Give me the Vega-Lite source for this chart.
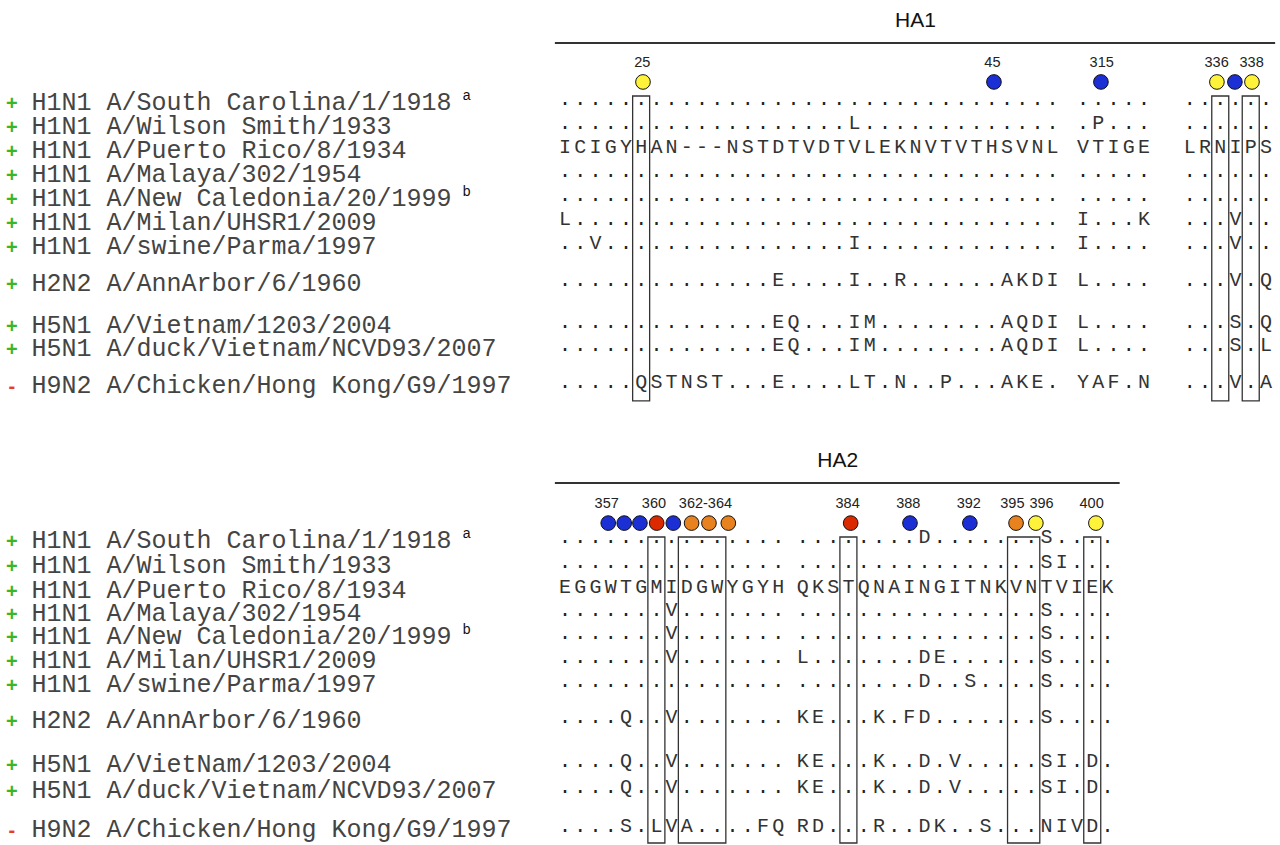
{
"$schema":"https://vega.github.io/schema/vega-lite/v6.json",
"width":1280,"height":845,
"autosize":{"type":"fit","contains":"padding"},
"padding":0,
"background":"white",
"config":{"view":{"stroke":null}},
"datasets":{
"panels":[{"title":"HA1","c":-0.66,"c2":46.6,"r":-2.58,"tc":23.0},{"title":"HA2","c":-0.66,"c2":36.4,"r":15.75,"tc":17.9}],
"boxes":[{"c":5,"c2":5,"r":-0.375,"r2":12.33},{"c":43,"c2":43,"r":-0.375,"r2":12.33},{"c":45,"c2":45,"r":-0.375,"r2":12.33},{"c":6,"c2":6,"r":18.0,"r2":30.75},{"c":8,"c2":10,"r":18.0,"r2":30.75},{"c":18.6,"c2":18.6,"r":18.0,"r2":30.75},{"c":29.6,"c2":30.6,"r":18.0,"r2":30.75},{"c":34.6,"c2":34.6,"r":18.0,"r2":30.75}],
"sites":[
{"r":-0.96,"c":5.12,"k":"yellow","lab":"25","lc":5.08},{"r":-0.96,"c":28.15,"k":"blue","lab":"45","lc":28.05},{"r":-0.96,"c":35.17,"k":"blue","lab":"315","lc":35.22},{"r":-0.96,"c":42.78,"k":"yellow","lab":"336","lc":42.76},{"r":-0.96,"c":43.96,"k":"blue","lab":"","lc":43.96},{"r":-0.96,"c":45.08,"k":"yellow","lab":"338","lc":45.06},
{"r":17.42,"c":2.84,"k":"blue","lab":"357","lc":2.74},{"r":17.42,"c":3.89,"k":"blue","lab":"","lc":3.89},{"r":17.42,"c":4.92,"k":"blue","lab":"","lc":4.92},{"r":17.42,"c":6.02,"k":"red","lab":"360","lc":5.84},{"r":17.42,"c":7.11,"k":"blue","lab":"","lc":7.11},{"r":17.42,"c":8.31,"k":"orange","lab":"","lc":8.31},{"r":17.42,"c":9.45,"k":"orange","lab":"362-364","lc":9.22},{"r":17.42,"c":10.72,"k":"orange","lab":"","lc":10.72},{"r":17.42,"c":18.75,"k":"red","lab":"384","lc":18.55},{"r":17.42,"c":22.64,"k":"blue","lab":"388","lc":22.53},{"r":17.42,"c":26.57,"k":"blue","lab":"392","lc":26.5},{"r":17.42,"c":29.6,"k":"orange","lab":"395","lc":29.36},{"r":17.42,"c":30.9,"k":"yellow","lab":"396","lc":31.27},{"r":17.42,"c":34.84,"k":"yellow","lab":"400","lc":34.56}],
"labels":[
{"r":0,"name":"H1N1 A/South Carolina/1/1918","s":"+","sup":"a"},
{"r":1,"name":"H1N1 A/Wilson Smith/1933","s":"+","sup":""},
{"r":2,"name":"H1N1 A/Puerto Rico/8/1934","s":"+","sup":""},
{"r":3,"name":"H1N1 A/Malaya/302/1954","s":"+","sup":""},
{"r":4,"name":"H1N1 A/New Caledonia/20/1999","s":"+","sup":"b"},
{"r":5,"name":"H1N1 A/Milan/UHSR1/2009","s":"+","sup":""},
{"r":6,"name":"H1N1 A/swine/Parma/1997","s":"+","sup":""},
{"r":7.55,"name":"H2N2 A/AnnArbor/6/1960","s":"+","sup":""},
{"r":9.3,"name":"H5N1 A/Vietnam/1203/2004","s":"+","sup":""},
{"r":10.25,"name":"H5N1 A/duck/Vietnam/NCVD93/2007","s":"+","sup":""},
{"r":11.8,"name":"H9N2 A/Chicken/Hong Kong/G9/1997","s":"-","sup":""},
{"r":18.27,"name":"H1N1 A/South Carolina/1/1918","s":"+","sup":"a"},
{"r":19.31,"name":"H1N1 A/Wilson Smith/1933","s":"+","sup":""},
{"r":20.33,"name":"H1N1 A/Puerto Rico/8/1934","s":"+","sup":""},
{"r":21.31,"name":"H1N1 A/Malaya/302/1954","s":"+","sup":""},
{"r":22.23,"name":"H1N1 A/New Caledonia/20/1999","s":"+","sup":"b"},
{"r":23.27,"name":"H1N1 A/Milan/UHSR1/2009","s":"+","sup":""},
{"r":24.23,"name":"H1N1 A/swine/Parma/1997","s":"+","sup":""},
{"r":25.77,"name":"H2N2 A/AnnArbor/6/1960","s":"+","sup":""},
{"r":27.6,"name":"H5N1 A/VietNam/1203/2004","s":"+","sup":""},
{"r":28.65,"name":"H5N1 A/duck/Vietnam/NCVD93/2007","s":"+","sup":""},
{"r":30.3,"name":"H9N2 A/Chicken/Hong Kong/G9/1997","s":"-","sup":""}],
"res":[
{"r":1,"c":19,"t":"L"},{"r":1,"c":35,"t":"P"},
{"r":2,"c":0,"t":"I"},{"r":2,"c":1,"t":"C"},{"r":2,"c":2,"t":"I"},{"r":2,"c":3,"t":"G"},{"r":2,"c":4,"t":"Y"},{"r":2,"c":5,"t":"H"},{"r":2,"c":6,"t":"A"},{"r":2,"c":7,"t":"N"},{"r":2,"c":8,"t":"-"},{"r":2,"c":9,"t":"-"},{"r":2,"c":10,"t":"-"},{"r":2,"c":11,"t":"N"},{"r":2,"c":12,"t":"S"},{"r":2,"c":13,"t":"T"},{"r":2,"c":14,"t":"D"},{"r":2,"c":15,"t":"T"},{"r":2,"c":16,"t":"V"},{"r":2,"c":17,"t":"D"},{"r":2,"c":18,"t":"T"},{"r":2,"c":19,"t":"V"},{"r":2,"c":20,"t":"L"},{"r":2,"c":21,"t":"E"},{"r":2,"c":22,"t":"K"},{"r":2,"c":23,"t":"N"},{"r":2,"c":24,"t":"V"},{"r":2,"c":25,"t":"T"},{"r":2,"c":26,"t":"V"},{"r":2,"c":27,"t":"T"},{"r":2,"c":28,"t":"H"},{"r":2,"c":29,"t":"S"},{"r":2,"c":30,"t":"V"},{"r":2,"c":31,"t":"N"},{"r":2,"c":32,"t":"L"},{"r":2,"c":34,"t":"V"},{"r":2,"c":35,"t":"T"},{"r":2,"c":36,"t":"I"},{"r":2,"c":37,"t":"G"},{"r":2,"c":38,"t":"E"},{"r":2,"c":41,"t":"L"},{"r":2,"c":42,"t":"R"},{"r":2,"c":43,"t":"N"},{"r":2,"c":44,"t":"I"},{"r":2,"c":45,"t":"P"},{"r":2,"c":46,"t":"S"},
{"r":5,"c":0,"t":"L"},{"r":5,"c":34,"t":"I"},{"r":5,"c":38,"t":"K"},{"r":5,"c":44,"t":"V"},
{"r":6,"c":2,"t":"V"},{"r":6,"c":19,"t":"I"},{"r":6,"c":34,"t":"I"},{"r":6,"c":44,"t":"V"},
{"r":7.55,"c":14,"t":"E"},{"r":7.55,"c":19,"t":"I"},{"r":7.55,"c":22,"t":"R"},{"r":7.55,"c":29,"t":"A"},{"r":7.55,"c":30,"t":"K"},{"r":7.55,"c":31,"t":"D"},{"r":7.55,"c":32,"t":"I"},{"r":7.55,"c":34,"t":"L"},{"r":7.55,"c":44,"t":"V"},{"r":7.55,"c":46,"t":"Q"},
{"r":9.3,"c":14,"t":"E"},{"r":9.3,"c":15,"t":"Q"},{"r":9.3,"c":19,"t":"I"},{"r":9.3,"c":20,"t":"M"},{"r":9.3,"c":29,"t":"A"},{"r":9.3,"c":30,"t":"Q"},{"r":9.3,"c":31,"t":"D"},{"r":9.3,"c":32,"t":"I"},{"r":9.3,"c":34,"t":"L"},{"r":9.3,"c":44,"t":"S"},{"r":9.3,"c":46,"t":"Q"},
{"r":10.25,"c":14,"t":"E"},{"r":10.25,"c":15,"t":"Q"},{"r":10.25,"c":19,"t":"I"},{"r":10.25,"c":20,"t":"M"},{"r":10.25,"c":29,"t":"A"},{"r":10.25,"c":30,"t":"Q"},{"r":10.25,"c":31,"t":"D"},{"r":10.25,"c":32,"t":"I"},{"r":10.25,"c":34,"t":"L"},{"r":10.25,"c":44,"t":"S"},{"r":10.25,"c":46,"t":"L"},
{"r":11.8,"c":5,"t":"Q"},{"r":11.8,"c":6,"t":"S"},{"r":11.8,"c":7,"t":"T"},{"r":11.8,"c":8,"t":"N"},{"r":11.8,"c":9,"t":"S"},{"r":11.8,"c":10,"t":"T"},{"r":11.8,"c":14,"t":"E"},{"r":11.8,"c":19,"t":"L"},{"r":11.8,"c":20,"t":"T"},{"r":11.8,"c":22,"t":"N"},{"r":11.8,"c":25,"t":"P"},{"r":11.8,"c":29,"t":"A"},{"r":11.8,"c":30,"t":"K"},{"r":11.8,"c":31,"t":"E"},{"r":11.8,"c":34,"t":"Y"},{"r":11.8,"c":35,"t":"A"},{"r":11.8,"c":36,"t":"F"},{"r":11.8,"c":38,"t":"N"},{"r":11.8,"c":44,"t":"V"},{"r":11.8,"c":46,"t":"A"},
{"r":18.27,"c":23.6,"t":"D"},{"r":18.27,"c":31.6,"t":"S"},
{"r":19.31,"c":31.6,"t":"S"},{"r":19.31,"c":32.6,"t":"I"},
{"r":20.33,"c":0,"t":"E"},{"r":20.33,"c":1,"t":"G"},{"r":20.33,"c":2,"t":"G"},{"r":20.33,"c":3,"t":"W"},{"r":20.33,"c":4,"t":"T"},{"r":20.33,"c":5,"t":"G"},{"r":20.33,"c":6,"t":"M"},{"r":20.33,"c":7,"t":"I"},{"r":20.33,"c":8,"t":"D"},{"r":20.33,"c":9,"t":"G"},{"r":20.33,"c":10,"t":"W"},{"r":20.33,"c":11,"t":"Y"},{"r":20.33,"c":12,"t":"G"},{"r":20.33,"c":13,"t":"Y"},{"r":20.33,"c":14,"t":"H"},
{"r":20.33,"c":15.6,"t":"Q"},{"r":20.33,"c":16.6,"t":"K"},{"r":20.33,"c":17.6,"t":"S"},{"r":20.33,"c":18.6,"t":"T"},{"r":20.33,"c":19.6,"t":"Q"},{"r":20.33,"c":20.6,"t":"N"},{"r":20.33,"c":21.6,"t":"A"},{"r":20.33,"c":22.6,"t":"I"},{"r":20.33,"c":23.6,"t":"N"},{"r":20.33,"c":24.6,"t":"G"},{"r":20.33,"c":25.6,"t":"I"},{"r":20.33,"c":26.6,"t":"T"},{"r":20.33,"c":27.6,"t":"N"},{"r":20.33,"c":28.6,"t":"K"},{"r":20.33,"c":29.6,"t":"V"},{"r":20.33,"c":30.6,"t":"N"},{"r":20.33,"c":31.6,"t":"T"},{"r":20.33,"c":32.6,"t":"V"},{"r":20.33,"c":33.6,"t":"I"},{"r":20.33,"c":34.6,"t":"E"},{"r":20.33,"c":35.6,"t":"K"},
{"r":21.31,"c":7,"t":"V"},{"r":21.31,"c":31.6,"t":"S"},
{"r":22.23,"c":7,"t":"V"},{"r":22.23,"c":31.6,"t":"S"},
{"r":23.27,"c":7,"t":"V"},{"r":23.27,"c":15.6,"t":"L"},{"r":23.27,"c":23.6,"t":"D"},{"r":23.27,"c":24.6,"t":"E"},{"r":23.27,"c":31.6,"t":"S"},
{"r":24.23,"c":23.6,"t":"D"},{"r":24.23,"c":26.6,"t":"S"},{"r":24.23,"c":31.6,"t":"S"},
{"r":25.77,"c":4,"t":"Q"},{"r":25.77,"c":7,"t":"V"},{"r":25.77,"c":15.6,"t":"K"},{"r":25.77,"c":16.6,"t":"E"},{"r":25.77,"c":20.6,"t":"K"},{"r":25.77,"c":22.6,"t":"F"},{"r":25.77,"c":23.6,"t":"D"},{"r":25.77,"c":31.6,"t":"S"},
{"r":27.6,"c":4,"t":"Q"},{"r":27.6,"c":7,"t":"V"},{"r":27.6,"c":15.6,"t":"K"},{"r":27.6,"c":16.6,"t":"E"},{"r":27.6,"c":20.6,"t":"K"},{"r":27.6,"c":23.6,"t":"D"},{"r":27.6,"c":25.6,"t":"V"},{"r":27.6,"c":31.6,"t":"S"},{"r":27.6,"c":32.6,"t":"I"},{"r":27.6,"c":34.6,"t":"D"},
{"r":28.65,"c":4,"t":"Q"},{"r":28.65,"c":7,"t":"V"},{"r":28.65,"c":15.6,"t":"K"},{"r":28.65,"c":16.6,"t":"E"},{"r":28.65,"c":20.6,"t":"K"},{"r":28.65,"c":23.6,"t":"D"},{"r":28.65,"c":25.6,"t":"V"},{"r":28.65,"c":31.6,"t":"S"},{"r":28.65,"c":32.6,"t":"I"},{"r":28.65,"c":34.6,"t":"D"},
{"r":30.3,"c":4,"t":"S"},{"r":30.3,"c":6,"t":"L"},{"r":30.3,"c":7,"t":"V"},{"r":30.3,"c":8,"t":"A"},{"r":30.3,"c":13,"t":"F"},{"r":30.3,"c":14,"t":"Q"},{"r":30.3,"c":15.6,"t":"R"},{"r":30.3,"c":16.6,"t":"D"},{"r":30.3,"c":20.6,"t":"R"},{"r":30.3,"c":23.6,"t":"D"},{"r":30.3,"c":24.6,"t":"K"},{"r":30.3,"c":27.6,"t":"S"},{"r":30.3,"c":31.6,"t":"N"},{"r":30.3,"c":32.6,"t":"I"},{"r":30.3,"c":33.6,"t":"V"},{"r":30.3,"c":34.6,"t":"D"}],
"dots":[
{"r":0,"c":0},{"r":0,"c":1},{"r":0,"c":2},{"r":0,"c":3},{"r":0,"c":4},{"r":0,"c":5},{"r":0,"c":6},{"r":0,"c":7},{"r":0,"c":8},{"r":0,"c":9},{"r":0,"c":10},{"r":0,"c":11},{"r":0,"c":12},{"r":0,"c":13},{"r":0,"c":14},{"r":0,"c":15},{"r":0,"c":16},{"r":0,"c":17},{"r":0,"c":18},{"r":0,"c":19},{"r":0,"c":20},{"r":0,"c":21},{"r":0,"c":22},{"r":0,"c":23},{"r":0,"c":24},{"r":0,"c":25},{"r":0,"c":26},{"r":0,"c":27},{"r":0,"c":28},{"r":0,"c":29},{"r":0,"c":30},{"r":0,"c":31},{"r":0,"c":32},{"r":0,"c":34},{"r":0,"c":35},{"r":0,"c":36},{"r":0,"c":37},{"r":0,"c":38},{"r":0,"c":41},{"r":0,"c":42},{"r":0,"c":43},{"r":0,"c":44},{"r":0,"c":45},{"r":0,"c":46},
{"r":1,"c":0},{"r":1,"c":1},{"r":1,"c":2},{"r":1,"c":3},{"r":1,"c":4},{"r":1,"c":5},{"r":1,"c":6},{"r":1,"c":7},{"r":1,"c":8},{"r":1,"c":9},{"r":1,"c":10},{"r":1,"c":11},{"r":1,"c":12},{"r":1,"c":13},{"r":1,"c":14},{"r":1,"c":15},{"r":1,"c":16},{"r":1,"c":17},{"r":1,"c":18},{"r":1,"c":20},{"r":1,"c":21},{"r":1,"c":22},{"r":1,"c":23},{"r":1,"c":24},{"r":1,"c":25},{"r":1,"c":26},{"r":1,"c":27},{"r":1,"c":28},{"r":1,"c":29},{"r":1,"c":30},{"r":1,"c":31},{"r":1,"c":32},{"r":1,"c":34},{"r":1,"c":36},{"r":1,"c":37},{"r":1,"c":38},{"r":1,"c":41},{"r":1,"c":42},{"r":1,"c":43},{"r":1,"c":44},{"r":1,"c":45},{"r":1,"c":46},
{"r":3,"c":0},{"r":3,"c":1},{"r":3,"c":2},{"r":3,"c":3},{"r":3,"c":4},{"r":3,"c":5},{"r":3,"c":6},{"r":3,"c":7},{"r":3,"c":8},{"r":3,"c":9},{"r":3,"c":10},{"r":3,"c":11},{"r":3,"c":12},{"r":3,"c":13},{"r":3,"c":14},{"r":3,"c":15},{"r":3,"c":16},{"r":3,"c":17},{"r":3,"c":18},{"r":3,"c":19},{"r":3,"c":20},{"r":3,"c":21},{"r":3,"c":22},{"r":3,"c":23},{"r":3,"c":24},{"r":3,"c":25},{"r":3,"c":26},{"r":3,"c":27},{"r":3,"c":28},{"r":3,"c":29},{"r":3,"c":30},{"r":3,"c":31},{"r":3,"c":32},{"r":3,"c":34},{"r":3,"c":35},{"r":3,"c":36},{"r":3,"c":37},{"r":3,"c":38},{"r":3,"c":41},{"r":3,"c":42},{"r":3,"c":43},{"r":3,"c":44},{"r":3,"c":45},{"r":3,"c":46},
{"r":4,"c":0},{"r":4,"c":1},{"r":4,"c":2},{"r":4,"c":3},{"r":4,"c":4},{"r":4,"c":5},{"r":4,"c":6},{"r":4,"c":7},{"r":4,"c":8},{"r":4,"c":9},{"r":4,"c":10},{"r":4,"c":11},{"r":4,"c":12},{"r":4,"c":13},{"r":4,"c":14},{"r":4,"c":15},{"r":4,"c":16},{"r":4,"c":17},{"r":4,"c":18},{"r":4,"c":19},{"r":4,"c":20},{"r":4,"c":21},{"r":4,"c":22},{"r":4,"c":23},{"r":4,"c":24},{"r":4,"c":25},{"r":4,"c":26},{"r":4,"c":27},{"r":4,"c":28},{"r":4,"c":29},{"r":4,"c":30},{"r":4,"c":31},{"r":4,"c":32},{"r":4,"c":34},{"r":4,"c":35},{"r":4,"c":36},{"r":4,"c":37},{"r":4,"c":38},{"r":4,"c":41},{"r":4,"c":42},{"r":4,"c":43},{"r":4,"c":44},{"r":4,"c":45},{"r":4,"c":46},
{"r":5,"c":1},{"r":5,"c":2},{"r":5,"c":3},{"r":5,"c":4},{"r":5,"c":5},{"r":5,"c":6},{"r":5,"c":7},{"r":5,"c":8},{"r":5,"c":9},{"r":5,"c":10},{"r":5,"c":11},{"r":5,"c":12},{"r":5,"c":13},{"r":5,"c":14},{"r":5,"c":15},{"r":5,"c":16},{"r":5,"c":17},{"r":5,"c":18},{"r":5,"c":19},{"r":5,"c":20},{"r":5,"c":21},{"r":5,"c":22},{"r":5,"c":23},{"r":5,"c":24},{"r":5,"c":25},{"r":5,"c":26},{"r":5,"c":27},{"r":5,"c":28},{"r":5,"c":29},{"r":5,"c":30},{"r":5,"c":31},{"r":5,"c":32},{"r":5,"c":35},{"r":5,"c":36},{"r":5,"c":37},{"r":5,"c":41},{"r":5,"c":42},{"r":5,"c":43},{"r":5,"c":45},{"r":5,"c":46},
{"r":6,"c":0},{"r":6,"c":1},{"r":6,"c":3},{"r":6,"c":4},{"r":6,"c":5},{"r":6,"c":6},{"r":6,"c":7},{"r":6,"c":8},{"r":6,"c":9},{"r":6,"c":10},{"r":6,"c":11},{"r":6,"c":12},{"r":6,"c":13},{"r":6,"c":14},{"r":6,"c":15},{"r":6,"c":16},{"r":6,"c":17},{"r":6,"c":18},{"r":6,"c":20},{"r":6,"c":21},{"r":6,"c":22},{"r":6,"c":23},{"r":6,"c":24},{"r":6,"c":25},{"r":6,"c":26},{"r":6,"c":27},{"r":6,"c":28},{"r":6,"c":29},{"r":6,"c":30},{"r":6,"c":31},{"r":6,"c":32},{"r":6,"c":35},{"r":6,"c":36},{"r":6,"c":37},{"r":6,"c":38},{"r":6,"c":41},{"r":6,"c":42},{"r":6,"c":43},{"r":6,"c":45},{"r":6,"c":46},
{"r":7.55,"c":0},{"r":7.55,"c":1},{"r":7.55,"c":2},{"r":7.55,"c":3},{"r":7.55,"c":4},{"r":7.55,"c":5},{"r":7.55,"c":6},{"r":7.55,"c":7},{"r":7.55,"c":8},{"r":7.55,"c":9},{"r":7.55,"c":10},{"r":7.55,"c":11},{"r":7.55,"c":12},{"r":7.55,"c":13},{"r":7.55,"c":15},{"r":7.55,"c":16},{"r":7.55,"c":17},{"r":7.55,"c":18},{"r":7.55,"c":20},{"r":7.55,"c":21},{"r":7.55,"c":23},{"r":7.55,"c":24},{"r":7.55,"c":25},{"r":7.55,"c":26},{"r":7.55,"c":27},{"r":7.55,"c":28},{"r":7.55,"c":35},{"r":7.55,"c":36},{"r":7.55,"c":37},{"r":7.55,"c":38},{"r":7.55,"c":41},{"r":7.55,"c":42},{"r":7.55,"c":43},{"r":7.55,"c":45},
{"r":9.3,"c":0},{"r":9.3,"c":1},{"r":9.3,"c":2},{"r":9.3,"c":3},{"r":9.3,"c":4},{"r":9.3,"c":5},{"r":9.3,"c":6},{"r":9.3,"c":7},{"r":9.3,"c":8},{"r":9.3,"c":9},{"r":9.3,"c":10},{"r":9.3,"c":11},{"r":9.3,"c":12},{"r":9.3,"c":13},{"r":9.3,"c":16},{"r":9.3,"c":17},{"r":9.3,"c":18},{"r":9.3,"c":21},{"r":9.3,"c":22},{"r":9.3,"c":23},{"r":9.3,"c":24},{"r":9.3,"c":25},{"r":9.3,"c":26},{"r":9.3,"c":27},{"r":9.3,"c":28},{"r":9.3,"c":35},{"r":9.3,"c":36},{"r":9.3,"c":37},{"r":9.3,"c":38},{"r":9.3,"c":41},{"r":9.3,"c":42},{"r":9.3,"c":43},{"r":9.3,"c":45},
{"r":10.25,"c":0},{"r":10.25,"c":1},{"r":10.25,"c":2},{"r":10.25,"c":3},{"r":10.25,"c":4},{"r":10.25,"c":5},{"r":10.25,"c":6},{"r":10.25,"c":7},{"r":10.25,"c":8},{"r":10.25,"c":9},{"r":10.25,"c":10},{"r":10.25,"c":11},{"r":10.25,"c":12},{"r":10.25,"c":13},{"r":10.25,"c":16},{"r":10.25,"c":17},{"r":10.25,"c":18},{"r":10.25,"c":21},{"r":10.25,"c":22},{"r":10.25,"c":23},{"r":10.25,"c":24},{"r":10.25,"c":25},{"r":10.25,"c":26},{"r":10.25,"c":27},{"r":10.25,"c":28},{"r":10.25,"c":35},{"r":10.25,"c":36},{"r":10.25,"c":37},{"r":10.25,"c":38},{"r":10.25,"c":41},{"r":10.25,"c":42},{"r":10.25,"c":43},{"r":10.25,"c":45},
{"r":11.8,"c":0},{"r":11.8,"c":1},{"r":11.8,"c":2},{"r":11.8,"c":3},{"r":11.8,"c":4},{"r":11.8,"c":11},{"r":11.8,"c":12},{"r":11.8,"c":13},{"r":11.8,"c":15},{"r":11.8,"c":16},{"r":11.8,"c":17},{"r":11.8,"c":18},{"r":11.8,"c":21},{"r":11.8,"c":23},{"r":11.8,"c":24},{"r":11.8,"c":26},{"r":11.8,"c":27},{"r":11.8,"c":28},{"r":11.8,"c":32},{"r":11.8,"c":37},{"r":11.8,"c":41},{"r":11.8,"c":42},{"r":11.8,"c":43},{"r":11.8,"c":45},
{"r":18.27,"c":0},{"r":18.27,"c":1},{"r":18.27,"c":2},{"r":18.27,"c":3},{"r":18.27,"c":4},{"r":18.27,"c":5},{"r":18.27,"c":6},{"r":18.27,"c":7},{"r":18.27,"c":8},{"r":18.27,"c":9},{"r":18.27,"c":10},{"r":18.27,"c":11},{"r":18.27,"c":12},{"r":18.27,"c":13},{"r":18.27,"c":14},{"r":18.27,"c":15.6},{"r":18.27,"c":16.6},{"r":18.27,"c":17.6},{"r":18.27,"c":18.6},{"r":18.27,"c":19.6},{"r":18.27,"c":20.6},{"r":18.27,"c":21.6},{"r":18.27,"c":22.6},{"r":18.27,"c":24.6},{"r":18.27,"c":25.6},{"r":18.27,"c":26.6},{"r":18.27,"c":27.6},{"r":18.27,"c":28.6},{"r":18.27,"c":29.6},{"r":18.27,"c":30.6},{"r":18.27,"c":32.6},{"r":18.27,"c":33.6},{"r":18.27,"c":34.6},{"r":18.27,"c":35.6},
{"r":19.31,"c":0},{"r":19.31,"c":1},{"r":19.31,"c":2},{"r":19.31,"c":3},{"r":19.31,"c":4},{"r":19.31,"c":5},{"r":19.31,"c":6},{"r":19.31,"c":7},{"r":19.31,"c":8},{"r":19.31,"c":9},{"r":19.31,"c":10},{"r":19.31,"c":11},{"r":19.31,"c":12},{"r":19.31,"c":13},{"r":19.31,"c":14},{"r":19.31,"c":15.6},{"r":19.31,"c":16.6},{"r":19.31,"c":17.6},{"r":19.31,"c":18.6},{"r":19.31,"c":19.6},{"r":19.31,"c":20.6},{"r":19.31,"c":21.6},{"r":19.31,"c":22.6},{"r":19.31,"c":23.6},{"r":19.31,"c":24.6},{"r":19.31,"c":25.6},{"r":19.31,"c":26.6},{"r":19.31,"c":27.6},{"r":19.31,"c":28.6},{"r":19.31,"c":29.6},{"r":19.31,"c":30.6},{"r":19.31,"c":33.6},{"r":19.31,"c":34.6},{"r":19.31,"c":35.6},
{"r":21.31,"c":0},{"r":21.31,"c":1},{"r":21.31,"c":2},{"r":21.31,"c":3},{"r":21.31,"c":4},{"r":21.31,"c":5},{"r":21.31,"c":6},{"r":21.31,"c":8},{"r":21.31,"c":9},{"r":21.31,"c":10},{"r":21.31,"c":11},{"r":21.31,"c":12},{"r":21.31,"c":13},{"r":21.31,"c":14},{"r":21.31,"c":15.6},{"r":21.31,"c":16.6},{"r":21.31,"c":17.6},{"r":21.31,"c":18.6},{"r":21.31,"c":19.6},{"r":21.31,"c":20.6},{"r":21.31,"c":21.6},{"r":21.31,"c":22.6},{"r":21.31,"c":23.6},{"r":21.31,"c":24.6},{"r":21.31,"c":25.6},{"r":21.31,"c":26.6},{"r":21.31,"c":27.6},{"r":21.31,"c":28.6},{"r":21.31,"c":29.6},{"r":21.31,"c":30.6},{"r":21.31,"c":32.6},{"r":21.31,"c":33.6},{"r":21.31,"c":34.6},{"r":21.31,"c":35.6},
{"r":22.23,"c":0},{"r":22.23,"c":1},{"r":22.23,"c":2},{"r":22.23,"c":3},{"r":22.23,"c":4},{"r":22.23,"c":5},{"r":22.23,"c":6},{"r":22.23,"c":8},{"r":22.23,"c":9},{"r":22.23,"c":10},{"r":22.23,"c":11},{"r":22.23,"c":12},{"r":22.23,"c":13},{"r":22.23,"c":14},{"r":22.23,"c":15.6},{"r":22.23,"c":16.6},{"r":22.23,"c":17.6},{"r":22.23,"c":18.6},{"r":22.23,"c":19.6},{"r":22.23,"c":20.6},{"r":22.23,"c":21.6},{"r":22.23,"c":22.6},{"r":22.23,"c":23.6},{"r":22.23,"c":24.6},{"r":22.23,"c":25.6},{"r":22.23,"c":26.6},{"r":22.23,"c":27.6},{"r":22.23,"c":28.6},{"r":22.23,"c":29.6},{"r":22.23,"c":30.6},{"r":22.23,"c":32.6},{"r":22.23,"c":33.6},{"r":22.23,"c":34.6},{"r":22.23,"c":35.6},
{"r":23.27,"c":0},{"r":23.27,"c":1},{"r":23.27,"c":2},{"r":23.27,"c":3},{"r":23.27,"c":4},{"r":23.27,"c":5},{"r":23.27,"c":6},{"r":23.27,"c":8},{"r":23.27,"c":9},{"r":23.27,"c":10},{"r":23.27,"c":11},{"r":23.27,"c":12},{"r":23.27,"c":13},{"r":23.27,"c":14},{"r":23.27,"c":16.6},{"r":23.27,"c":17.6},{"r":23.27,"c":18.6},{"r":23.27,"c":19.6},{"r":23.27,"c":20.6},{"r":23.27,"c":21.6},{"r":23.27,"c":22.6},{"r":23.27,"c":25.6},{"r":23.27,"c":26.6},{"r":23.27,"c":27.6},{"r":23.27,"c":28.6},{"r":23.27,"c":29.6},{"r":23.27,"c":30.6},{"r":23.27,"c":32.6},{"r":23.27,"c":33.6},{"r":23.27,"c":34.6},{"r":23.27,"c":35.6},
{"r":24.23,"c":0},{"r":24.23,"c":1},{"r":24.23,"c":2},{"r":24.23,"c":3},{"r":24.23,"c":4},{"r":24.23,"c":5},{"r":24.23,"c":6},{"r":24.23,"c":7},{"r":24.23,"c":8},{"r":24.23,"c":9},{"r":24.23,"c":10},{"r":24.23,"c":11},{"r":24.23,"c":12},{"r":24.23,"c":13},{"r":24.23,"c":14},{"r":24.23,"c":15.6},{"r":24.23,"c":16.6},{"r":24.23,"c":17.6},{"r":24.23,"c":18.6},{"r":24.23,"c":19.6},{"r":24.23,"c":20.6},{"r":24.23,"c":21.6},{"r":24.23,"c":22.6},{"r":24.23,"c":24.6},{"r":24.23,"c":25.6},{"r":24.23,"c":27.6},{"r":24.23,"c":28.6},{"r":24.23,"c":29.6},{"r":24.23,"c":30.6},{"r":24.23,"c":32.6},{"r":24.23,"c":33.6},{"r":24.23,"c":34.6},{"r":24.23,"c":35.6},
{"r":25.77,"c":0},{"r":25.77,"c":1},{"r":25.77,"c":2},{"r":25.77,"c":3},{"r":25.77,"c":5},{"r":25.77,"c":6},{"r":25.77,"c":8},{"r":25.77,"c":9},{"r":25.77,"c":10},{"r":25.77,"c":11},{"r":25.77,"c":12},{"r":25.77,"c":13},{"r":25.77,"c":14},{"r":25.77,"c":17.6},{"r":25.77,"c":18.6},{"r":25.77,"c":19.6},{"r":25.77,"c":21.6},{"r":25.77,"c":24.6},{"r":25.77,"c":25.6},{"r":25.77,"c":26.6},{"r":25.77,"c":27.6},{"r":25.77,"c":28.6},{"r":25.77,"c":29.6},{"r":25.77,"c":30.6},{"r":25.77,"c":32.6},{"r":25.77,"c":33.6},{"r":25.77,"c":34.6},{"r":25.77,"c":35.6},
{"r":27.6,"c":0},{"r":27.6,"c":1},{"r":27.6,"c":2},{"r":27.6,"c":3},{"r":27.6,"c":5},{"r":27.6,"c":6},{"r":27.6,"c":8},{"r":27.6,"c":9},{"r":27.6,"c":10},{"r":27.6,"c":11},{"r":27.6,"c":12},{"r":27.6,"c":13},{"r":27.6,"c":14},{"r":27.6,"c":17.6},{"r":27.6,"c":18.6},{"r":27.6,"c":19.6},{"r":27.6,"c":21.6},{"r":27.6,"c":22.6},{"r":27.6,"c":24.6},{"r":27.6,"c":26.6},{"r":27.6,"c":27.6},{"r":27.6,"c":28.6},{"r":27.6,"c":29.6},{"r":27.6,"c":30.6},{"r":27.6,"c":33.6},{"r":27.6,"c":35.6},
{"r":28.65,"c":0},{"r":28.65,"c":1},{"r":28.65,"c":2},{"r":28.65,"c":3},{"r":28.65,"c":5},{"r":28.65,"c":6},{"r":28.65,"c":8},{"r":28.65,"c":9},{"r":28.65,"c":10},{"r":28.65,"c":11},{"r":28.65,"c":12},{"r":28.65,"c":13},{"r":28.65,"c":14},{"r":28.65,"c":17.6},{"r":28.65,"c":18.6},{"r":28.65,"c":19.6},{"r":28.65,"c":21.6},{"r":28.65,"c":22.6},{"r":28.65,"c":24.6},{"r":28.65,"c":26.6},{"r":28.65,"c":27.6},{"r":28.65,"c":28.6},{"r":28.65,"c":29.6},{"r":28.65,"c":30.6},{"r":28.65,"c":33.6},{"r":28.65,"c":35.6},
{"r":30.3,"c":0},{"r":30.3,"c":1},{"r":30.3,"c":2},{"r":30.3,"c":3},{"r":30.3,"c":5},{"r":30.3,"c":9},{"r":30.3,"c":10},{"r":30.3,"c":11},{"r":30.3,"c":12},{"r":30.3,"c":17.6},{"r":30.3,"c":18.6},{"r":30.3,"c":19.6},{"r":30.3,"c":21.6},{"r":30.3,"c":22.6},{"r":30.3,"c":25.6},{"r":30.3,"c":26.6},{"r":30.3,"c":28.6},{"r":30.3,"c":29.6},{"r":30.3,"c":30.6},{"r":30.3,"c":35.6}]
},
"layer":[
{"data":{"name":"panels"},"mark":{"type":"rule","color":"#333","strokeWidth":2},
 "encoding":{"x":{"field":"c","type":"quantitative","scale":{"domain":[-37.07,46.92],"nice":false,"zero":false},"axis":null},"x2":{"field":"c2"},"y":{"field":"r","type":"quantitative","scale":{"domain":[-4.375,30.833],"reverse":true,"nice":false,"zero":false},"axis":null}}},
{"data":{"name":"panels"},"mark":{"type":"text","font":"Liberation Sans","fontSize":21,"align":"center","baseline":"alphabetic","dy":-16,"color":"#111"},
 "encoding":{"x":{"field":"tc","type":"quantitative"},"y":{"field":"r","type":"quantitative"},"text":{"field":"title"}}},
{"data":{"name":"boxes"},"mark":{"type":"rect","fill":null,"fillOpacity":0,"stroke":"#333","strokeWidth":1.3,"xOffset":-8.5,"x2Offset":8.5},
 "encoding":{"x":{"field":"c","type":"quantitative"},"x2":{"field":"c2"},"y":{"field":"r","type":"quantitative"},"y2":{"field":"r2"}}},
{"data":{"name":"sites"},"mark":{"type":"point","filled":true,"size":215,"stroke":"#111","strokeWidth":1,"opacity":1},
 "encoding":{"x":{"field":"c","type":"quantitative"},"y":{"field":"r","type":"quantitative"},"fill":{"field":"k","type":"nominal","scale":{"domain":["yellow","blue","red","orange"],"range":["#fff23a","#1b2fd4","#dc2a00","#e8821e"]},"legend":null}}},
{"data":{"name":"sites"},"mark":{"type":"text","font":"Liberation Sans","fontSize":14.5,"align":"center","baseline":"alphabetic","dy":-15,"color":"#222"},
 "encoding":{"x":{"field":"lc","type":"quantitative"},"y":{"field":"r","type":"quantitative"},"text":{"field":"lab"}}},
{"data":{"name":"dots"},"mark":{"type":"text","text":".","font":"Liberation Mono","fontSize":20,"align":"center","baseline":"alphabetic","color":"#222"},
 "encoding":{"x":{"field":"c","type":"quantitative"},"y":{"field":"r","type":"quantitative"}}},
{"data":{"name":"res"},"mark":{"type":"text","font":"Liberation Mono","fontSize":20,"align":"center","baseline":"alphabetic","color":"#333"},
 "encoding":{"x":{"field":"c","type":"quantitative"},"y":{"field":"r","type":"quantitative"},"text":{"field":"t"}}},
{"data":{"name":"labels"},"mark":{"type":"text","font":"Liberation Mono","fontSize":25,"align":"left","baseline":"alphabetic","dy":5,"color":"#444"},
 "encoding":{"x":{"datum":-35,"type":"quantitative"},"y":{"field":"r","type":"quantitative"},"text":{"field":"name"}}},
{"data":{"name":"labels"},"mark":{"type":"text","font":"Liberation Sans","fontWeight":"bold","fontSize":20,"align":"center","baseline":"alphabetic","dy":5},
 "encoding":{"x":{"datum":-36.3,"type":"quantitative"},"y":{"field":"r","type":"quantitative"},"text":{"field":"s"},"color":{"field":"s","type":"nominal","scale":{"domain":["+","-"],"range":["#3cb527","#e2401f"]},"legend":null}}},
{"data":{"name":"labels"},"transform":[{"filter":"datum.sup != ''"}],"mark":{"type":"text","font":"Liberation Sans","fontSize":14,"align":"left","baseline":"alphabetic","dy":-5,"color":"#111"},
 "encoding":{"x":{"datum":-6.7,"type":"quantitative"},"y":{"field":"r","type":"quantitative"},"text":{"field":"sup"}}}
]
}
